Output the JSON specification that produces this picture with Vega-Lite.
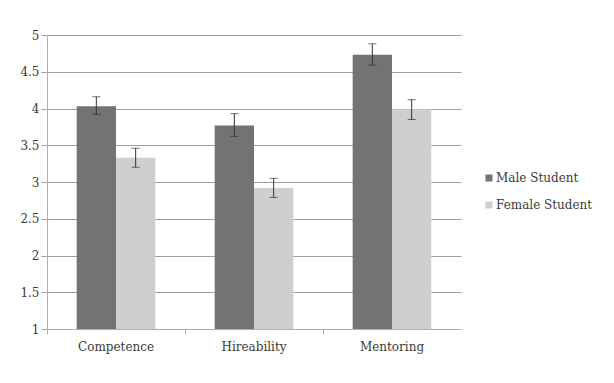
{
  "$schema": "https://vega.github.io/schema/vega-lite/v6.json",
  "width": 414,
  "height": 294,
  "autosize": "none",
  "padding": {"left": 47, "top": 35, "right": 153, "bottom": 54},
  "background": "white",
  "data": {
    "values": [
      {"measure": "Competence", "group": "Male Student", "mean": 4.03, "lo": 3.92, "hi": 4.16},
      {"measure": "Competence", "group": "Female Student", "mean": 3.33, "lo": 3.2, "hi": 3.46},
      {"measure": "Hireability", "group": "Male Student", "mean": 3.77, "lo": 3.62, "hi": 3.93},
      {"measure": "Hireability", "group": "Female Student", "mean": 2.92, "lo": 2.79, "hi": 3.05},
      {"measure": "Mentoring", "group": "Male Student", "mean": 4.73, "lo": 4.59, "hi": 4.88},
      {"measure": "Mentoring", "group": "Female Student", "mean": 3.99, "lo": 3.85, "hi": 4.12}
    ]
  },
  "encoding": {
    "x": {
      "field": "measure", "type": "nominal", "title": null,
      "scale": {"paddingInner": 0, "paddingOuter": 0},
      "axis": {
        "bandPosition": 0, "labelAngle": 0,
        "domainColor": "#b0b0b0", "tickColor": "#b0b0b0", "tickSize": 5,
        "labelFont": "DejaVu Serif", "labelFontSize": 12, "labelColor": "#3a3a3a",
        "labelPadding": 7, "grid": false
      }
    },
    "xOffset": {
      "field": "group", "type": "nominal", "sort": ["Male Student", "Female Student"],
      "scale": {"paddingInner": 0, "paddingOuter": 0.755}
    }
  },
  "layer": [
    {
      "mark": {"type": "bar"},
      "encoding": {
        "y": {
          "field": "mean", "type": "quantitative", "title": null,
          "scale": {"domain": [1, 5], "nice": false, "zero": false},
          "axis": {
            "values": [1, 1.5, 2, 2.5, 3, 3.5, 4, 4.5, 5], "format": "~g",
            "gridColor": "#a0a0a0", "gridWidth": 1,
            "domainColor": "#b0b0b0", "tickColor": "#a0a0a0", "tickSize": 6,
            "labelFont": "DejaVu Serif", "labelFontSize": 12, "labelColor": "#3a3a3a",
            "labelPadding": 2
          }
        },
        "y2": {"datum": 1},
        "color": {
          "field": "group", "type": "nominal", "sort": ["Male Student", "Female Student"],
          "title": null,
          "scale": {"domain": ["Male Student", "Female Student"], "range": ["#737373", "#cfcfcf"]},
          "legend": {
            "orient": "none", "legendX": 436, "legendY": 137,
            "symbolType": "square", "symbolSize": 49, "symbolStrokeWidth": 0,
            "labelFont": "DejaVu Serif", "labelFontSize": 12, "labelColor": "#3a3a3a",
            "rowPadding": 15, "labelOffset": 1
          }
        }
      }
    },
    {
      "mark": {"type": "rule", "color": "#333333", "strokeWidth": 1},
      "encoding": {
        "y": {
          "field": "lo", "type": "quantitative", "title": null,
          "axis": {
            "values": [1, 1.5, 2, 2.5, 3, 3.5, 4, 4.5, 5], "format": "~g",
            "gridColor": "#a0a0a0", "gridWidth": 1,
            "domainColor": "#b0b0b0", "tickColor": "#a0a0a0", "tickSize": 6,
            "labelFont": "DejaVu Serif", "labelFontSize": 12, "labelColor": "#3a3a3a",
            "labelPadding": 2
          }
        },
        "y2": {"field": "hi"}
      }
    },
    {
      "mark": {"type": "tick", "color": "#333333", "thickness": 1, "size": 8},
      "encoding": {
        "y": {
          "field": "lo", "type": "quantitative", "title": null,
          "axis": {
            "values": [1, 1.5, 2, 2.5, 3, 3.5, 4, 4.5, 5], "format": "~g",
            "gridColor": "#a0a0a0", "gridWidth": 1,
            "domainColor": "#b0b0b0", "tickColor": "#a0a0a0", "tickSize": 6,
            "labelFont": "DejaVu Serif", "labelFontSize": 12, "labelColor": "#3a3a3a",
            "labelPadding": 2
          }
        }
      }
    },
    {
      "mark": {"type": "tick", "color": "#333333", "thickness": 1, "size": 8},
      "encoding": {
        "y": {
          "field": "hi", "type": "quantitative", "title": null,
          "axis": {
            "values": [1, 1.5, 2, 2.5, 3, 3.5, 4, 4.5, 5], "format": "~g",
            "gridColor": "#a0a0a0", "gridWidth": 1,
            "domainColor": "#b0b0b0", "tickColor": "#a0a0a0", "tickSize": 6,
            "labelFont": "DejaVu Serif", "labelFontSize": 12, "labelColor": "#3a3a3a",
            "labelPadding": 2
          }
        }
      }
    }
  ],
  "config": {
    "view": {"stroke": null},
    "axis": {"labelFont": "DejaVu Serif"}
  }
}
